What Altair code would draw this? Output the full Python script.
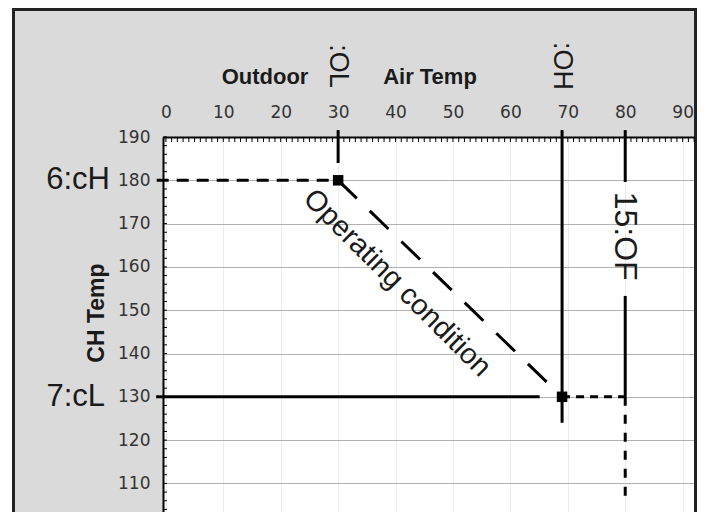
import altair as alt
import pandas as pd

# ---- data ----
x_ticks = [0, 10, 20, 30, 40, 50, 60, 70, 80, 90]
y_ticks = [110, 120, 130, 140, 150, 160, 170, 180, 190]
x_minor = list(range(0, 93))
y_minor = list(range(104, 191, 2))

OL, OH, OF = 30, 69, 80          # outdoor air temp set points
cH, cL = 180, 130                # CH temp set points

# solid segments (x, y) -> (x2, y2)
solid_x = [OL, OH, -1.7, OF, OF]
solid_x2 = [OL, OH, 65.1, OF, OF]
solid_y = [191.6, 191.6, cL, 191.6, 153.3]
solid_y2 = [184.0, 124.0, cL, 179.6, cL]

# dashed segments
dash_cH = dict(x=[-1.6], x2=[OL], y=[cH], y2=[cH])
dash_diag = dict(x=[OL], x2=[OH], y=[cH], y2=[cL])
dash_cL = dict(x=[OH], x2=[OF], y=[cL], y2=[cL])
dash_OF = dict(x=[OF], x2=[OF], y=[cL], y2=[106.9])

pts_x = [OL, OH]
pts_y = [cH, cL]

W, H = 534, 375
x_dom = [-0.5, 92.5]
y_dom = [103.4, 190]

FONT = "Liberation Sans"
TICKFONT = "DejaVu Sans"

xs = alt.Scale(domain=x_dom, nice=False, zero=False)
ys = alt.Scale(domain=y_dom, nice=False, zero=False)

x_axis = alt.Axis(orient="top", values=x_ticks, ticks=False, tickSize=0, title=None,
                  domainColor="black", domainWidth=2, labelFont=TICKFONT,
                  labelFontSize=17, labelColor="#333", labelPadding=16,
                  grid=True, gridColor="#ededed", gridWidth=1)
y_axis = alt.Axis(orient="left", values=y_ticks, ticks=False, tickSize=0, title=None,
                  domainColor="black", domainWidth=2, labelFont=TICKFONT,
                  labelFontSize=17, labelColor="#333", labelPadding=13,
                  grid=True, gridColor="#b0b0b0", gridWidth=1)


def X(f="x"):
    return alt.X(f"{f}:Q", scale=xs, axis=x_axis)


def Y(f="y"):
    return alt.Y(f"{f}:Q", scale=ys, axis=y_axis)


one = alt.Data(values=[{"a": 1}])

# base layer carrying axes
base = alt.Chart(pd.DataFrame({"x": pts_x, "y": pts_y})).mark_point(opacity=0).encode(x=X(), y=Y())

# white strip left of the outer frame, and the frame
strip = alt.Chart(one).mark_rect(fill="white").encode(
    x=alt.value(-155), x2=alt.value(-151), y=alt.value(-129), y2=alt.value(H))
frame = alt.Chart(one).mark_rect(fillOpacity=0, stroke="#222", strokeWidth=3).encode(
    x=alt.value(-149.5), x2=alt.value(W - 1.5), y=alt.value(-127.5), y2=alt.value(H + 40))

top_minor = alt.Chart(pd.DataFrame({"x": x_minor})).mark_rule(color="black", strokeWidth=1).encode(
    x=X(), y=alt.value(0), y2=alt.value(5))
left_minor = alt.Chart(pd.DataFrame({"y": y_minor})).mark_rule(color="black", strokeWidth=1).encode(
    y=Y(), x=alt.value(0), x2=alt.value(4))

solid = alt.Chart(pd.DataFrame({"x": solid_x, "x2": solid_x2, "y": solid_y, "y2": solid_y2})).mark_rule(
    color="black", strokeWidth=3).encode(x=X(), x2="x2:Q", y=Y(), y2="y2:Q")


def dashed(d, dash, w=3):
    return alt.Chart(pd.DataFrame(d)).mark_rule(color="black", strokeWidth=w, strokeDash=dash).encode(
        x=X(), x2="x2:Q", y=Y(), y2="y2:Q")


l_cH = dashed(dash_cH, [12, 8])
l_diag = dashed(dash_diag, [26, 18])
l_cL = dashed(dash_cL, [8, 6])
l_OF = dashed(dash_OF, [9, 9])

squares = alt.Chart(pd.DataFrame({"x": pts_x, "y": pts_y})).mark_square(
    size=110, color="black", opacity=1).encode(x=X(), y=Y())

TXT = "#1a1a1a"
op_label = alt.Chart(pd.DataFrame({"x": [40.3], "y": [156.3], "t": ["Operating condition"]})).mark_text(
    angle=45, fontSize=29, font=FONT, color=TXT, align="center", baseline="middle").encode(
    x=X(), y=Y(), text="t:N")
of_label = alt.Chart(pd.DataFrame({"x": [OF], "y": [167.1], "t": ["15:OF"]})).mark_text(
    angle=90, fontSize=32, font=FONT, color=TXT, align="center", baseline="middle").encode(
    x=X(), y=Y(), text="t:N")
top_labels = alt.Chart(pd.DataFrame({"x": [OL, OH], "t": [":OL", ":OH"]})).mark_text(
    angle=90, fontSize=27, font=FONT, color=TXT, align="center", baseline="middle").encode(
    x=X(), y=alt.value(-71), text="t:N")
cH_label = alt.Chart(pd.DataFrame({"y": [cH], "t": ["6:cH"]})).mark_text(
    fontSize=31, font=FONT, color=TXT, align="right", baseline="middle").encode(
    y=Y(), x=alt.value(-53), text="t:N")
cL_label = alt.Chart(pd.DataFrame({"y": [cL], "t": ["7:cL"]})).mark_text(
    fontSize=31, font=FONT, color=TXT, align="right", baseline="middle").encode(
    y=Y(), x=alt.value(-58), text="t:N")
outdoor = alt.Chart(one).mark_text(text="Outdoor", fontSize=22, fontWeight="bold", font=FONT,
                                    color=TXT, align="center", baseline="middle").encode(
    x=alt.value(102), y=alt.value(-60))
airtemp = alt.Chart(one).mark_text(text="Air Temp", fontSize=22, fontWeight="bold", font=FONT,
                                    color=TXT, align="center", baseline="middle").encode(
    x=alt.value(267), y=alt.value(-60))
chtemp = alt.Chart(one).mark_text(text="CH Temp", fontSize=23, fontWeight="bold", font=FONT,
                                   color=TXT, angle=270, align="center", baseline="middle").encode(
    x=alt.value(-66), y=alt.value(176))

chart = alt.layer(
    base, strip, frame, top_minor, left_minor, solid, l_cH, l_diag, l_cL, l_OF, squares,
    op_label, of_label, top_labels, cH_label, cL_label, outdoor, airtemp, chtemp
).properties(
    width=W, height=H,
    autosize=alt.AutoSizeParams(type="none"),
    padding={"left": 155, "top": 129, "right": 0, "bottom": 0},
    background="#dadada",
).configure_view(stroke=None, fill="white")

chart.save("out.html", embed_options={"renderer": "svg", "actions": False})
